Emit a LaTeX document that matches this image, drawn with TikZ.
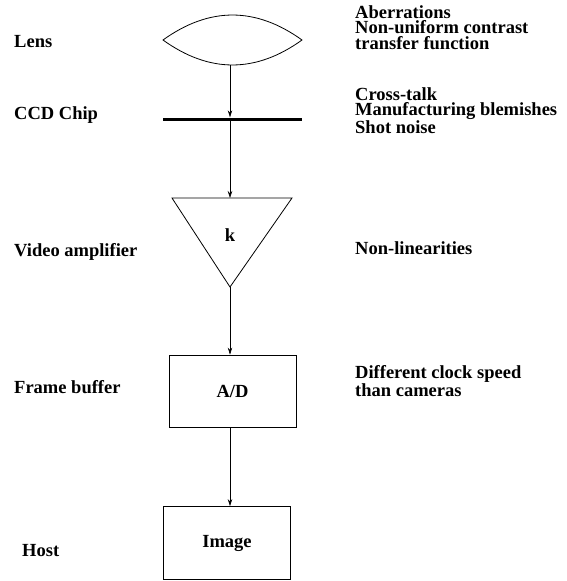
\documentclass[tikz,border=0pt]{standalone}
\usepackage{fontspec}
\setmainfont{Liberation Serif}
\usetikzlibrary{arrows.meta}
\tikzset{
  lbl/.style={anchor=west, inner sep=0pt, font=\fontsize{18.5}{15.5}\selectfont\bfseries},
  note/.style={lbl, anchor=north west, align=left},
  box/.style={draw, line width=0.8pt, minimum width=127pt, minimum height=72pt,
    inner sep=0pt, font=\fontsize{18.5}{15.5}\selectfont\bfseries},
  chip/.style={fill, minimum width=139pt, minimum height=3pt, inner sep=0pt},
  flow/.style={-{Stealth[length=7pt,width=4.5pt]}, line width=0.6pt},
}
\begin{document}
\begin{tikzpicture}[x=1pt, y=-1pt]
\useasboundingbox (0,0) rectangle (566,581);
% camera chain
\draw[line width=0.8pt] (163,40) .. controls (209.3,6.7) and (255.7,6.7) .. (302,40)
  .. controls (255.7,73.3) and (209.3,73.3) .. (163,40) -- cycle;
\coordinate (lens) at (230,65);
\node[chip] (ccd) at (232.5,119) {};
\draw[line width=0.8pt] (172,198) coordinate (amptop) -- (292,198)
  -- (230,287) coordinate (ampbot) -- cycle;
\node[lbl, anchor=center] (amp) at (230,235) {k};
\node[box] (adc) at (232.5,391) {A/D};
\node[box, minimum height=73pt] (img) at (227,543) {Image};
% connectors
\draw[flow] (lens) -- (lens |- ccd.north);
\draw[flow] (lens |- ccd.south) -- (lens |- amptop);
\draw[flow] (ampbot) -- (ampbot |- adc.north);
\draw[flow] (ampbot |- adc.south) -- (ampbot |- img.north);
% stages
\node[lbl] (lensname) at (14,42) {Lens};
\node[lbl] (ccdname) at (14,115) {CCD Chip};
\node[lbl] (ampname) at (14,252) {Video amplifier};
\node[lbl] (fbname) at (14,387) {Frame buffer};
\node[lbl] (hostname) at (22,551) {Host};
% error sources
\node[note] (lenserr) at (355,5) {Aberrations\\Non-uniform contrast\\transfer function};
\node[note] (ccderr) at (355,87) {Cross-talk\\Manufacturing blemishes\\Shot noise};
\node[lbl] (amperr) at (355,248) {Non-linearities};
\node[note] (fberr) at (355,365) {Different clock speed\\than cameras};
\end{tikzpicture}
\end{document}
